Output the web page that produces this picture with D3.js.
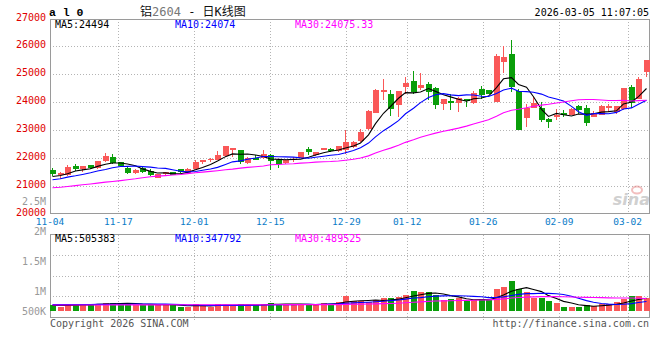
<!DOCTYPE html>
<html><head><meta charset="utf-8">
<script src="https://cdn.jsdelivr.net/npm/d3@7"></script>
<style>
body{margin:0;background:#fff}
text{font-family:"DejaVu Sans Mono","Liberation Mono",monospace}
</style></head>
<body><svg id="c" width="660" height="360"></svg>
<script>
// ---------------- data ----------------
const dates = ["11-04","11-05","11-06","11-07","11-10","11-11","11-12","11-13","11-14","11-17",
"11-18","11-19","11-20","11-21","11-24","11-25","11-26","11-27","11-28","12-01",
"12-02","12-03","12-04","12-05","12-08","12-09","12-10","12-11","12-12","12-15",
"12-16","12-17","12-18","12-19","12-22","12-23","12-24","12-25","12-26","12-29",
"12-30","12-31","01-05","01-06","01-07","01-08","01-09","01-12","01-13","01-14",
"01-15","01-16","01-19","01-20","01-21","01-22","01-23","01-26","01-27","01-28",
"01-29","01-30","02-02","02-03","02-04","02-05","02-06","02-09","02-10","02-11",
"02-12","02-13","02-24","02-25","02-26","02-27","03-02","03-03","03-04","03-05"];

const open = [21560,21407,21383,21718,21610,21741,21634,21884,22040,21848,
21658,21467,21645,21538,21300,21420,21500,21598,21467,21622,
21870,21930,21930,22063,22303,22279,21824,21991,22015,22099,
21944,21824,21944,22003,22327,22099,22303,22327,22243,22279,
22398,22614,23057,23620,24374,24314,23919,24553,24757,24517,
24649,24494,23931,24051,23979,24111,23979,24470,24434,24015,
25451,25726,24398,23441,23812,23812,23393,23476,23632,23560,
23859,23812,23476,23560,23812,23656,23776,24554,24135,25092];
const high = [21644,21503,21765,21777,21730,21765,21884,22183,22160,21870,
21680,21620,21680,21620,21420,21520,21520,21620,21640,21920,
21945,21990,22270,22447,22370,22290,22040,22099,22279,22159,
21980,21960,22030,22230,22400,22220,22370,22350,22440,23000,
22600,23045,23716,24460,24817,24434,24398,24912,25116,25032,
24733,24554,24111,24290,24190,24120,24398,24578,24440,25726,
26013,26229,24458,23955,24194,24015,23420,23776,23740,23800,
23920,23900,23690,23920,23955,23859,24494,24613,24888,25511];
const low = [21345,21263,21346,21538,21503,21610,21620,21860,21800,21680,
21440,21420,21480,21346,21290,21400,21400,21480,21450,21600,
21780,21860,21930,22039,22040,21776,21800,21920,21980,21560,
21645,21800,21860,21990,22100,22080,22290,22220,22220,22159,
22380,22578,23020,23600,24075,23500,23476,24314,24314,24434,
24075,23775,23740,23716,23656,23840,23955,24135,24290,24015,
25056,24374,23022,23118,23812,23297,23082,23381,23476,23536,
23596,23141,23476,23536,23656,23596,23716,23812,24100,24912];
const close = [21429,21467,21682,21598,21730,21634,21884,22064,21824,21718,
21467,21562,21503,21383,21420,21500,21410,21503,21622,21870,
21920,21960,22100,22422,22362,21860,22003,21920,22159,21896,
21800,21944,21980,22207,22219,22207,22362,22243,22422,22566,
22566,22925,23679,24433,24434,23775,24398,24697,24374,24613,
24374,23895,24111,23979,24171,24039,24338,24254,24314,25667,
25631,24554,23022,23812,23979,23357,23297,23560,23560,23776,
23716,23261,23632,23859,23859,23859,24494,23979,24829,25511];

const ma5 = [21345,21381,21441,21537,21581,21622,21706,21782,21827,21825,
21791,21727,21615,21527,21467,21474,21443,21443,21491,21581,
21665,21775,21894,22054,22153,22141,22149,22113,22061,21968,
21956,21944,21956,21965,22030,22111,22195,22248,22291,22360,
22432,22544,22832,23234,23607,23849,24144,24347,24336,24371,
24491,24391,24273,24194,24106,24039,24128,24156,24223,24522,
24841,24884,24638,24537,24200,23745,23493,23601,23551,23510,
23582,23575,23589,23649,23665,23694,23941,24010,24204,24494];
const ma10 = [21225,21261,21321,21369,21417,21477,21537,21596,21656,21703,
21707,21716,21698,21677,21646,21633,21585,21529,21509,21524,
21569,21609,21669,21773,21867,21903,21962,22004,22058,22060,
22048,22047,22035,22013,21999,22034,22069,22102,22128,22195,
22272,22370,22540,22762,22984,23141,23344,23590,23785,23989,
24170,24267,24310,24265,24239,24265,24259,24215,24209,24314,
24440,24506,24397,24380,24361,24293,24189,24119,24044,23855,
23663,23534,23595,23600,23588,23638,23758,23800,23926,24074];
const ma30 = [20938,20960,20985,21015,21045,21075,21105,21140,21165,21195,
21225,21260,21300,21335,21355,21375,21395,21415,21445,21475,
21500,21525,21550,21584,21608,21644,21668,21692,21716,21762,
21775,21791,21801,21821,21837,21856,21872,21878,21898,21926,
21963,22008,22081,22183,22283,22359,22459,22565,22657,22748,
22830,22895,22962,23013,23074,23146,23224,23302,23374,23500,
23627,23714,23749,23802,23861,23899,23931,23975,24012,24053,
24091,24102,24101,24082,24062,24065,24068,24045,24060,24075];

const volume = [182000,102000,182000,230000,230000,182000,230000,278000,278000,278000,
230000,182000,182000,230000,182000,182000,182000,102000,102000,230000,
137000,102000,230000,182000,182000,230000,137000,182000,230000,292000,
230000,182000,182000,230000,230000,182000,278000,230000,324000,610000,
372000,372000,324000,419000,498000,498000,562000,657000,847000,800000,
800000,657000,419000,467000,498000,372000,419000,467000,419000,942000,
1037000,1322000,942000,800000,514000,514000,372000,278000,102000,102000,
102000,182000,135000,230000,230000,324000,467000,610000,610000,514000];
const vma5 = [160000,160000,165000,175000,185000,185000,211000,230000,240000,249000,
259000,249000,230000,220000,201000,192000,192000,176000,150000,160000,
151000,135000,160000,176000,167000,185000,192000,183000,192000,214000,
214000,223000,223000,223000,211000,201000,220000,230000,249000,325000,
363000,382000,400000,419000,397000,422000,460000,527000,612000,673000,
733000,752000,705000,629000,568000,483000,435000,445000,435000,524000,
657000,837000,932000,1009000,923000,818000,628000,496000,356000,274000,
191000,153000,125000,150000,176000,220000,277000,372000,448000,505383];
const vma10 = [200000,200000,205000,205000,210000,210000,212000,214000,216000,217000,
222000,230000,230000,230000,225000,225000,220000,203000,185000,180000,
171000,163000,168000,163000,163000,168000,163000,171000,184000,190000,
200000,208000,203000,208000,213000,208000,222000,227000,236000,268000,
282000,301000,315000,334000,361000,393000,421000,464000,516000,535000,
578000,606000,616000,621000,621000,608000,594000,575000,532000,546000,
570000,636000,689000,722000,723000,738000,733000,714000,682000,598000,
505000,391000,310000,253000,225000,206000,215000,248000,299000,347792];
const vma30 = [180000,180000,181000,182000,183000,184000,185000,186000,187000,188000,
189000,190000,190000,191000,191000,192000,192000,192000,193000,193000,
193000,194000,194000,194000,195000,195000,195000,196000,196000,196000,
198000,200000,200000,200000,200000,200000,202000,200000,202000,213000,
218000,224000,229000,235000,246000,256000,269000,287000,312000,331000,
353000,372000,378000,387000,398000,403000,412000,422000,428000,450000,
476000,514000,540000,559000,568000,579000,582000,584000,577000,560000,
551000,544000,538000,532000,523000,517000,514000,512000,504000,489525];

const priceTicks = [20000,21000,22000,23000,24000,25000,26000,27000];
const dateTicks = ["11-04","11-17","12-01","12-15","12-29","01-12","01-26","02-09","03-02"];
const volTickValues = [2500000,2000000,1500000,1000000,500000];
const volTickLabels = ["2.5M","2M","1.5M","1M","500K"];
const priceLegend = ["MA5:24494","MA10:24074","MA30:24075.33"];
const volLegend = ["MA5:505383","MA10:347792","MA30:489525"];
const titleParts = ["铝","2604"," - 日K线图"];
const symbol = "a l 0";
const stamp = "2026-03-05 11:07:05";

// ---------------- drawing ----------------
const svg = d3.select("#c");
const L = 50, R = 650, T = 19, B = 213.5, VT = 234.5, VB = 317;
const RED = "#fa5858", GREEN = "#0a9e0a", GRID = "#b4b4b4", FRAME = "#9a9a9a";
const lineColors = ["#000000", "#0000ff", "#ff00ff"];

const x = d3.scaleBand().domain(d3.range(dates.length)).range([L, R]).paddingInner(0.2);
const bx = i => Math.round(x(i));
const y = d3.scaleLinear().domain([20000, 27000]).range([214, 18.5]);
const gx = d3.scaleLinear().domain([0, dates.indexOf("03-02")]).range([L, 627.6]);
const yv = d3.scaleLinear().domain([0, 1000000]).range([308.85, 287.8]);
const yvLab = d3.scaleLinear().domain([500000, 1000000, 2500000]).range([310.7, 290.7, 200.7]);

const grid = svg.append("g").attr("stroke", GRID).attr("stroke-dasharray", "1,2").attr("shape-rendering", "crispEdges");
grid.selectAll(".hp").data(priceTicks.filter(v => v > 20000 && v < 27000)).join("line")
  .attr("x1", L).attr("x2", R).attr("y1", d => Math.round(y(d)) + 0.5).attr("y2", d => Math.round(y(d)) + 0.5);
const tickIdx = dateTicks.map(d => dates.indexOf(d)).filter(i => i > 0);
grid.selectAll(".vp").data(tickIdx).join("line")
  .attr("x1", i => Math.round(gx(i)) + 0.5).attr("x2", i => Math.round(gx(i)) + 0.5).attr("y1", T).attr("y2", B);
grid.selectAll(".vv").data(tickIdx).join("line")
  .attr("x1", i => Math.round(gx(i)) + 0.5).attr("x2", i => Math.round(gx(i)) + 0.5).attr("y1", VT).attr("y2", VB + 3);
grid.selectAll(".hv").data([1, 2, 3]).join("line")
  .attr("x1", L).attr("x2", R)
  .attr("y1", k => Math.round(VT + (VB - VT) * k / 4) + 0.5).attr("y2", k => Math.round(VT + (VB - VT) * k / 4) + 0.5);

svg.append("rect").attr("x", L + 0.5).attr("y", T + 0.5).attr("width", R - L - 1).attr("height", B - T - 0.5)
  .attr("fill", "none").attr("stroke", FRAME).attr("shape-rendering", "crispEdges");
svg.append("rect").attr("x", L + 0.5).attr("y", VT).attr("width", R - L - 1).attr("height", VB - VT)
  .attr("fill", "none").attr("stroke", FRAME).attr("shape-rendering", "crispEdges");

// watermark
const wm = svg.append("g").attr("opacity", 0.55);
wm.append("text").attr("x", 650).attr("y", 205).attr("text-anchor", "end")
  .style("font-family", "'DejaVu Sans',sans-serif").style("font-style", "italic").style("font-weight", "bold")
  .attr("font-size", 16).attr("fill", "#aaaaaa").text("sina");
wm.append("ellipse").attr("cx", 637).attr("cy", 190).attr("rx", 5).attr("ry", 3.5)
  .attr("fill", "none").attr("stroke", "#e88a8a").attr("stroke-width", 2);

// candles
const idx = d3.range(dates.length);
const col = i => close[i] >= open[i] ? RED : GREEN;
const cg = svg.append("g").attr("shape-rendering", "crispEdges");
cg.selectAll(".wick").data(idx).join("rect")
  .attr("x", i => bx(i) + 2).attr("width", 1)
  .attr("y", i => Math.round(y(high[i]))).attr("height", i => Math.max(1, Math.round(y(low[i])) - Math.round(y(high[i]))))
  .attr("fill", col);
cg.selectAll(".body").data(idx).join("rect")
  .attr("x", i => bx(i)).attr("width", 6)
  .attr("y", i => Math.round(y(Math.max(open[i], close[i]))))
  .attr("height", i => Math.max(1, Math.round(y(Math.min(open[i], close[i]))) - Math.round(y(Math.max(open[i], close[i])))))
  .attr("fill", col);

cg.selectAll(".vol").data(idx).join("rect")
  .attr("x", i => bx(i)).attr("width", 6)
  .attr("y", i => Math.round(yv(volume[i])))
  .attr("height", i => Math.round(yv(0) + 1.85) - Math.round(yv(volume[i])))
  .attr("fill", col);

const pLine = d3.line().x((d, i) => bx(i) + 2.5).y(d => y(d));
[ma5, ma10, ma30].forEach((s, k) => {
  svg.append("path").attr("d", pLine(s)).attr("fill", "none").attr("stroke", lineColors[k]).attr("stroke-width", 1.1);
});
const vLine = d3.line().x((d, i) => bx(i) + 2.5).y(d => yv(d));
[vma5, vma10, vma30].forEach((s, k) => {
  svg.append("path").attr("d", vLine(s)).attr("fill", "none").attr("stroke", lineColors[k]).attr("stroke-width", 1.1);
});

// axis labels
svg.selectAll(".pl").data(priceTicks).join("text")
  .attr("x", 46).attr("y", d => y(d) - 1.5).attr("dy", "0.35em").attr("text-anchor", "end")
  .attr("font-size", 10).attr("fill", "#e00000").text(d => d);
svg.selectAll(".vl").data(volTickValues).join("text")
  .attr("x", 46).attr("y", d => yvLab(d) + 0.5).attr("dy", "0.35em").attr("text-anchor", "end")
  .attr("font-size", 10).attr("fill", "#999999").text((d, i) => volTickLabels[i]);
svg.selectAll(".dl").data(dateTicks).join("text")
  .attr("x", d => gx(dates.indexOf(d))).attr("y", 225).attr("text-anchor", "middle")
  .attr("font-size", 9.5).attr("fill", "#0a7cc8").text(d => d);

const legX = [55, 175, 295];
svg.selectAll(".lg").data(priceLegend).join("text")
  .attr("x", (d, i) => legX[i]).attr("y", 27.5).attr("font-size", 10).attr("fill", (d, i) => lineColors[i]).text(d => d);
svg.selectAll(".lgv").data(volLegend).join("text")
  .attr("x", (d, i) => legX[i]).attr("y", 241.5).attr("font-size", 10).attr("fill", (d, i) => lineColors[i]).text(d => d);

svg.append("text").attr("x", 49).attr("y", 16).attr("font-size", 11.5).attr("font-weight", "bold")
  .style("font-family", "'Liberation Mono','DejaVu Sans Mono',monospace").attr("fill", "#000").text(symbol);
const tt = svg.append("text").attr("x", 140).attr("y", 16).attr("font-size", 12)
  .style("font-family", "'DejaVu Sans Mono','Noto Sans CJK SC',monospace");
tt.append("tspan").attr("fill", "#111").text(titleParts[0]);
tt.append("tspan").attr("fill", "#777").text(titleParts[1]);
tt.append("tspan").attr("fill", "#111").text(titleParts[2]);
svg.append("text").attr("x", 649).attr("y", 16).attr("text-anchor", "end").attr("font-size", 10).attr("fill", "#000").text(stamp);

svg.append("text").attr("x", 50).attr("y", 327).attr("font-size", 10).attr("fill", "#555").text("Copyright 2026 SINA.COM");
svg.append("text").attr("x", 649).attr("y", 327).attr("text-anchor", "end").attr("font-size", 10).attr("fill", "#555").text("http://finance.sina.com.cn");
</script></body></html>
